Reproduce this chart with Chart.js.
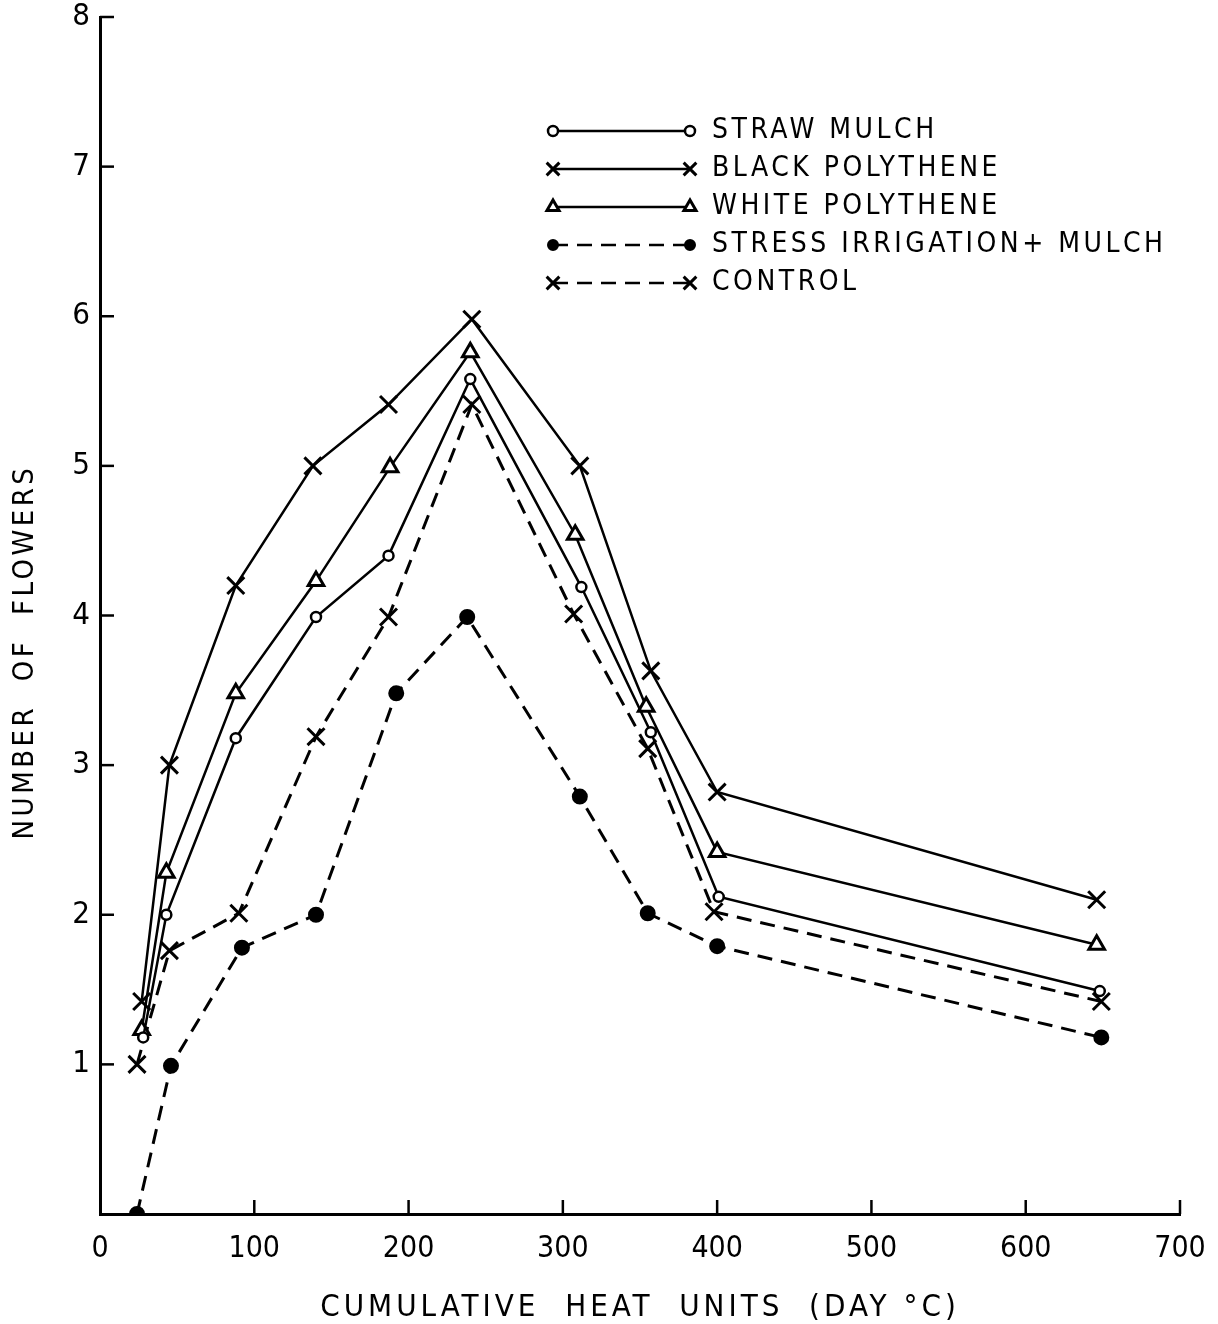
<!DOCTYPE html>
<html><head><meta charset="utf-8">
<script src="https://cdn.jsdelivr.net/npm/chart.js@4.4.1/dist/chart.umd.min.js"></script>
<style>html,body{margin:0;padding:0;background:#fff}canvas{display:block}</style>
</head><body>
<canvas id="c" width="1218" height="1324"></canvas>
<script>
// ---- data ----
const seriesNames = ["STRAW MULCH", "BLACK POLYTHENE", "WHITE POLYTHENE", "STRESS IRRIGATION+ MULCH", "CONTROL"];
const strawX   = [28, 43, 88, 140, 187, 240, 312, 357, 401, 648];
const strawY   = [1.18, 2.00, 3.18, 3.99, 4.40, 5.58, 4.19, 3.22, 2.12, 1.49];
const blackX   = [27, 45, 88, 138, 187, 241, 311, 357, 400, 646];
const blackY   = [1.42, 3.00, 4.20, 5.00, 5.41, 5.98, 5.00, 3.63, 2.82, 2.10];
const whiteX   = [27, 43, 88, 140, 188, 240, 308, 354, 400, 646];
const whiteY   = [1.23, 2.28, 3.48, 4.23, 4.99, 5.76, 4.54, 3.39, 2.42, 1.80];
const stressX  = [24, 46, 92, 140, 192, 238, 311, 355, 400, 649];
const stressY  = [0.00, 0.99, 1.78, 2.00, 3.48, 3.99, 2.79, 2.01, 1.79, 1.18];
const controlX = [24, 45, 90, 140, 187, 241, 307, 355, 398, 649];
const controlY = [1.00, 1.76, 2.01, 3.19, 3.99, 5.41, 4.01, 3.11, 2.02, 1.42];
const xTicks = [0, 100, 200, 300, 400, 500, 600, 700];
const yTicks = [1, 2, 3, 4, 5, 6, 7, 8];
const xTitle = "CUMULATIVE  HEAT  UNITS  (DAY \u00B0C)";
const yTitle = "NUMBER  OF  FLOWERS";

const FONT = "'DejaVu Sans Condensed','Liberation Sans Narrow','Liberation Sans',sans-serif";
const pts = (xs, ys) => xs.map((x, i) => ({x: x, y: ys[i]}));

const DASH = [15, 9];
const styles = [
  {pointStyle: 'circle',   radius: 5,  fill: '#fff', dash: [],   bw: 2.5, lw: 2.5},
  {pointStyle: 'crossRot', radius: 12, fill: '#000', dash: [],   bw: 3,   lw: 2.5},
  {pointStyle: 'triangle', radius: 9,  fill: '#fff', dash: [],   bw: 3,   lw: 2.5},
  {pointStyle: 'circle',   radius: 7,  fill: '#000', dash: DASH, bw: 2,   lw: 3},
  {pointStyle: 'crossRot', radius: 12, fill: '#000', dash: DASH, bw: 3,   lw: 3}
];
const seriesData = [pts(strawX, strawY), pts(blackX, blackY), pts(whiteX, whiteY), pts(stressX, stressY), pts(controlX, controlY)];

const datasets = seriesData.map((d, i) => ({
  label: seriesNames[i],
  data: d,
  showLine: true,
  borderColor: '#000',
  borderWidth: styles[i].lw,
  borderDash: styles[i].dash,
  pointStyle: styles[i].pointStyle,
  pointRadius: styles[i].radius,
  pointBorderWidth: styles[i].bw,
  pointBackgroundColor: styles[i].fill,
  pointBorderColor: '#000',
  tension: 0,
  fill: false
}));

function drawMarker(ctx, st, x, y) {
  ctx.save();
  ctx.setLineDash([]);
  ctx.lineWidth = st.bw;
  ctx.strokeStyle = '#000';
  ctx.fillStyle = st.fill;
  const r = st.radius;
  ctx.beginPath();
  if (st.pointStyle === 'circle') {
    ctx.arc(x, y, r, 0, Math.PI * 2);
    ctx.fill(); ctx.stroke();
  } else if (st.pointStyle === 'triangle') {
    ctx.moveTo(x, y - r);
    ctx.lineTo(x + r * 0.866, y + r * 0.5);
    ctx.lineTo(x - r * 0.866, y + r * 0.5);
    ctx.closePath();
    ctx.fill(); ctx.stroke();
  } else {
    const d = r * 0.707;
    ctx.moveTo(x - d, y - d); ctx.lineTo(x + d, y + d);
    ctx.moveTo(x + d, y - d); ctx.lineTo(x - d, y + d);
    ctx.stroke();
  }
  ctx.restore();
}

const decorPlugin = {
  id: 'decor',
  afterDraw(chart) {
    const ctx = chart.ctx;
    const xs = chart.scales.x, ys = chart.scales.y;
    const ca = chart.chartArea;
    ctx.save();
    ctx.strokeStyle = '#000';
    ctx.lineWidth = 2.5;
    ctx.setLineDash([]);
    // inward tick marks
    yTicks.forEach(v => {
      const py = ys.getPixelForValue(v);
      ctx.beginPath(); ctx.moveTo(ca.left, py); ctx.lineTo(ca.left + 14, py); ctx.stroke();
    });
    xTicks.forEach(v => {
      if (v === 0) return;
      const px = xs.getPixelForValue(v);
      ctx.beginPath(); ctx.moveTo(px, ca.bottom); ctx.lineTo(px, ca.bottom - 14); ctx.stroke();
    });
    // legend
    const lx1 = 553, lx2 = 690, tx = 712, y0 = 131, dy = 38;
    ctx.font = '28px ' + FONT;
    ctx.fillStyle = '#000';
    ctx.textBaseline = 'middle';
    ctx.textAlign = 'left';
    seriesNames.forEach((name, i) => {
      const y = y0 + i * dy;
      const st = styles[i];
      ctx.lineWidth = 2.5;
      ctx.setLineDash(st.dash);
      ctx.beginPath(); ctx.moveTo(lx1, y); ctx.lineTo(lx2, y); ctx.stroke();
      ctx.setLineDash([]);
      const legSt = Object.assign({}, st, {radius: st.pointStyle === 'crossRot' ? 9 : (st.pointStyle === 'triangle' ? 7 : Math.min(st.radius, 5))});
      drawMarker(ctx, legSt, lx1, y);
      drawMarker(ctx, legSt, lx2, y);
      ctx.letterSpacing = '3.5px';
      ctx.fillText(name, tx, y);
      ctx.letterSpacing = '0px';
    });
    // axis titles
    ctx.font = '31px ' + FONT;
    ctx.letterSpacing = '4px';
    ctx.textAlign = 'center';
    ctx.fillText(xTitle, 640, 1308);
    ctx.font = '29px ' + FONT;
    ctx.letterSpacing = '3.5px';
    ctx.translate(25, 652);
    ctx.rotate(-Math.PI / 2);
    ctx.fillText(yTitle, 0, 0);
    ctx.letterSpacing = '0px';
    ctx.restore();
  }
};

new Chart(document.getElementById('c'), {
  type: 'scatter',
  data: {datasets: datasets},
  options: {
    responsive: false,
    animation: false,
    layout: {padding: {top: 17, right: 38, left: 0, bottom: 0}},
    plugins: {legend: {display: false}, tooltip: {enabled: false}},
    scales: {
      x: {
        type: 'linear', min: 0, max: 700,
        afterFit(s) { s.height = 110; s.paddingLeft = 0; s.paddingRight = 0; },
        afterBuildTicks(s) { s.ticks = xTicks.map(v => ({value: v})); },
        grid: {display: true, drawOnChartArea: false, drawTicks: false},
        border: {display: true, color: '#000', width: 3},
        ticks: {color: '#000', padding: 20, maxRotation: 0, font: {family: FONT, size: 30, lineHeight: 1}}
      },
      y: {
        type: 'linear', min: 0, max: 8,
        afterFit(s) { s.width = 100; s.paddingTop = 0; s.paddingBottom = 0; },
        afterBuildTicks(s) { s.ticks = [0].concat(yTicks).map(v => ({value: v})); },
        grid: {display: true, drawOnChartArea: false, drawTicks: false},
        border: {display: true, color: '#000', width: 3},
        ticks: {color: '#000', padding: 10, font: {family: FONT, size: 31, lineHeight: 1},
          callback: v => (v === 0 ? '' : v)}
      }
    }
  },
  plugins: [decorPlugin]
});
</script>
</body></html>
